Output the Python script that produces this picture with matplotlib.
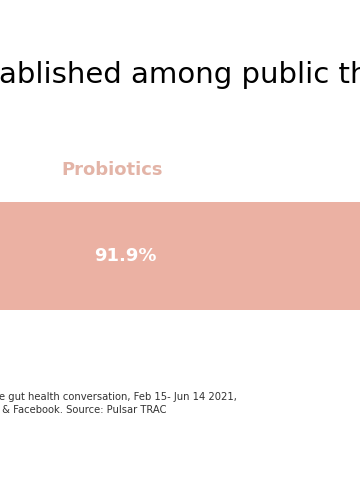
import matplotlib.pyplot as plt

# data
categories = ["Probiotics"]
shares = [91.9]
title_txt = "ablished among public th"
note_lines = ["e gut health conversation, Feb 15- Jun 14 2021,",
              " & Facebook. Source: Pulsar TRAC"]

bar_col = "#EBB1A3"
lab_col = "#E3B4A7"

fig = plt.figure(figsize=(3.6, 5), dpi=100)
plt.rcParams['font.family'] = ['DejaVu Sans']

ax = fig.add_axes([0, 0.38, 1, 0.216])
ax.barh(0, shares[0], height=1, color=bar_col, left=0)
ax.set_xlim(25.1, 85.1)
ax.set_ylim(-0.5, 0.5)
ax.axis('off')

ax.text(shares[0] / 2, 0, "%.1f%%" % shares[0], color="white",
        fontsize=13, fontweight="bold", ha="center", va="center")

# category label above bar
fig.text(112 / 360, 1 - 170 / 500, categories[0], color=lab_col,
         fontsize=13, fontweight="bold", ha="center", va="center")

fig.text(-0.003, 1 - 75 / 500, title_txt, fontsize=21, color="black",
         ha="left", va="center")

fig.text(-0.003, 1 - 397 / 500, note_lines[0], fontsize=7.2, color="#333333",
         ha="left", va="center")
fig.text(-0.003, 1 - 410 / 500, note_lines[1], fontsize=7.2, color="#333333",
         ha="left", va="center")

fig.savefig("out.png", dpi=100)
